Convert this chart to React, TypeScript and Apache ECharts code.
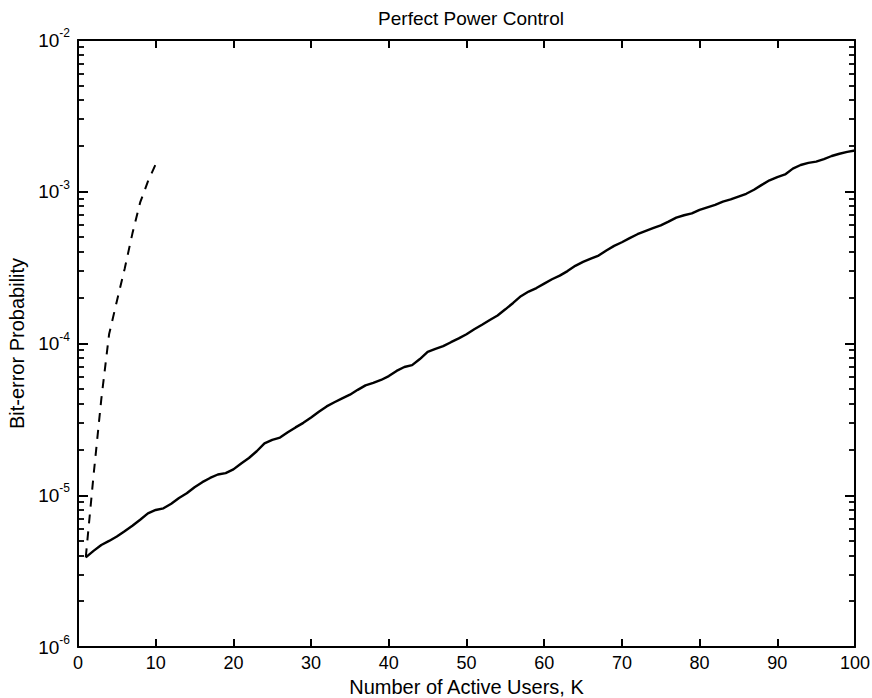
import React, { useEffect, useRef } from "react";
import * as echarts from "echarts";

const titleText = "Perfect Power Control";
const xName = "Number of Active Users, K";
const yName = "Bit-error Probability";

// Dashed curve (K = 1..10)
const dashedK = [1, 2, 3, 4, 5, 6, 7, 8, 9, 10];
const dashedP = [3.9e-6, 1.35e-5, 4.3e-5, 1.15e-4, 1.9e-4, 3.1e-4, 5.3e-4, 8.5e-4, 1.17e-3, 1.52e-3];

// Solid curve (K = 1..100)
const solidK = Array.from({ length: 100 }, (_, i) => i + 1);
const solidP = [
  3.9e-6, 4.3e-6, 4.7e-6, 5.0e-6, 5.35e-6, 5.8e-6, 6.3e-6, 6.9e-6, 7.6e-6, 8.0e-6,
  8.2e-6, 8.8e-6, 9.6e-6, 1.03e-5, 1.13e-5, 1.22e-5, 1.3e-5, 1.37e-5, 1.4e-5, 1.48e-5,
  1.62e-5, 1.76e-5, 1.95e-5, 2.2e-5, 2.32e-5, 2.4e-5, 2.6e-5, 2.8e-5, 3.0e-5, 3.25e-5,
  3.55e-5, 3.85e-5, 4.1e-5, 4.35e-5, 4.6e-5, 4.95e-5, 5.3e-5, 5.5e-5, 5.75e-5, 6.1e-5,
  6.6e-5, 7.0e-5, 7.2e-5, 7.9e-5, 8.8e-5, 9.2e-5, 9.6e-5, 1.02e-4, 1.08e-4, 1.15e-4,
  1.24e-4, 1.33e-4, 1.43e-4, 1.53e-4, 1.68e-4, 1.85e-4, 2.05e-4, 2.2e-4, 2.32e-4, 2.48e-4,
  2.65e-4, 2.8e-4, 3.0e-4, 3.25e-4, 3.45e-4, 3.62e-4, 3.8e-4, 4.1e-4, 4.4e-4, 4.65e-4,
  4.95e-4, 5.25e-4, 5.5e-4, 5.75e-4, 6.0e-4, 6.35e-4, 6.75e-4, 7.0e-4, 7.2e-4, 7.6e-4,
  7.9e-4, 8.2e-4, 8.6e-4, 8.9e-4, 9.3e-4, 9.7e-4, 1.03e-3, 1.11e-3, 1.19e-3, 1.25e-3,
  1.3e-3, 1.42e-3, 1.5e-3, 1.55e-3, 1.58e-3, 1.64e-3, 1.72e-3, 1.78e-3, 1.83e-3, 1.87e-3,
];

// Axis ranges / ticks
const xMin = 0;
const xMax = 100;
const xInterval = 10;
const yMin = 1e-6;
const yMax = 1e-2;
const decades = [1e-6, 1e-5, 1e-4, 1e-3];
const minorMultipliers = [2, 3, 4, 5, 6, 7, 8, 9];

const FONT = "Liberation Sans, Arial, Helvetica, sans-serif";

export default function App() {
  const ref = useRef<HTMLDivElement>(null);

  useEffect(() => {
    if (!ref.current) return;
    const chart = echarts.init(ref.current, undefined, { renderer: "svg" });

    const minorVals: number[] = [];
    decades.forEach((d) => minorMultipliers.forEach((m) => minorVals.push(d * m)));

    const yLabelFmt = (v: number) => {
      const e = Math.round(Math.log10(v));
      return `{b|10}{s|${e}}`;
    };

    const axisLineStyle = { color: "#000", width: 2 };
    const tickStyle = { color: "#000", width: 2 };

    const option: any = {
      animation: false,
      title: {
        text: titleText,
        left: 466,
        top: 4,
        textAlign: "center",
        textStyle: { fontFamily: FONT, fontSize: 19, fontWeight: "normal", color: "#000" },
      },
      grid: { left: 78, right: 17, top: 40, bottom: 51, containLabel: false, outerBoundsMode: "none" },
      xAxis: [
        {
          type: "value",
          min: xMin,
          max: xMax,
          interval: xInterval,
          position: "bottom",
          name: xName,
          nameLocation: "middle",
          nameGap: 29,
          nameTextStyle: { fontFamily: FONT, fontSize: 20, color: "#000" },
          axisLine: { show: true, onZero: false, lineStyle: axisLineStyle },
          axisTick: { show: true, inside: true, length: 8, lineStyle: tickStyle },
          axisLabel: { fontFamily: FONT, fontSize: 18, color: "#000", margin: 7 },
          splitLine: { show: false },
        },
        {
          type: "value",
          min: xMin,
          max: xMax,
          interval: xInterval,
          position: "top",
          axisLine: { show: true, onZero: false, lineStyle: axisLineStyle },
          axisTick: { show: true, inside: true, length: 8, lineStyle: tickStyle },
          axisLabel: { show: false },
          splitLine: { show: false },
        },
      ],
      yAxis: [
        {
          type: "log",
          logBase: 10,
          min: yMin,
          max: yMax,
          position: "left",
          name: yName,
          nameLocation: "middle",
          nameGap: 50,
          nameTextStyle: { fontFamily: FONT, fontSize: 20, color: "#000" },
          axisLine: { show: true, onZero: false, lineStyle: axisLineStyle },
          axisTick: { show: true, inside: true, length: 10, lineStyle: tickStyle },
          axisLabel: {
            margin: 8,
            formatter: yLabelFmt,
            rich: {
              b: { fontFamily: FONT, fontSize: 19, color: "#000" },
              s: { fontFamily: FONT, fontSize: 12, color: "#000", padding: [0, 0, 14, 0] },
            },
          },
          splitLine: { show: false },
        },
        {
          type: "log",
          logBase: 10,
          min: yMin,
          max: yMax,
          position: "right",
          axisLine: { show: true, onZero: false, lineStyle: axisLineStyle },
          axisTick: { show: true, inside: true, length: 10, lineStyle: tickStyle },
          axisLabel: { show: false },
          splitLine: { show: false },
        },
      ],
      series: [
        {
          type: "line",
          xAxisIndex: 0,
          yAxisIndex: 0,
          data: solidK.map((k, i) => [k, solidP[i]]),
          showSymbol: false,
          symbol: "none",
          smooth: false,
          lineStyle: { color: "#000", width: 2.4 },
          z: 3,
        },
        {
          type: "line",
          xAxisIndex: 0,
          yAxisIndex: 0,
          data: dashedK.map((k, i) => [k, dashedP[i]]),
          showSymbol: false,
          symbol: "none",
          lineStyle: { color: "#000", width: 2, type: [9, 8] },
          z: 3,
        },
      ],
    };

    chart.setOption(option);

    // Minor log ticks on left and right edges, positioned through the y axis scale
    const xLeft = chart.convertToPixel({ xAxisIndex: 0 }, xMin) as number;
    const xRight = chart.convertToPixel({ xAxisIndex: 0 }, xMax) as number;
    const minorLen = 6;
    const graphics: any[] = [];
    minorVals.forEach((v) => {
      const y = Math.round(chart.convertToPixel({ yAxisIndex: 0 }, v) as number);
      graphics.push({
        type: "line",
        z: 100,
        silent: true,
        shape: { x1: xLeft, y1: y, x2: xLeft + minorLen, y2: y },
        style: { stroke: "#000", lineWidth: 1.8 },
      });
      graphics.push({
        type: "line",
        z: 100,
        silent: true,
        shape: { x1: xRight, y1: y, x2: xRight - minorLen, y2: y },
        style: { stroke: "#000", lineWidth: 1.8 },
      });
    });
    chart.setOption({ graphic: graphics });

    return () => chart.dispose();
  }, []);

  return (
    <div
      ref={ref}
      style={{ position: "fixed", left: 0, top: 0, width: 872, height: 698, background: "#fff" }}
    />
  );
}
